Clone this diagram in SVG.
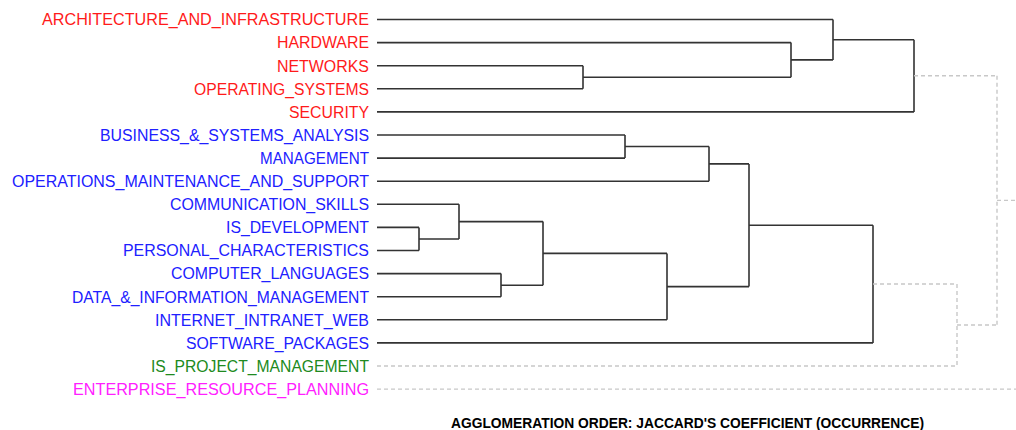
<svg xmlns="http://www.w3.org/2000/svg" width="1016" height="430" viewBox="0 0 1016 430">
<style>
.lbl{font-family:"Liberation Sans",Arial,sans-serif;font-size:16px;text-anchor:end}
.r{fill:#ff1a1a}.b{fill:#2020ff}.g{fill:#208a20}.m{fill:#ff20ff}
.solid{fill:none;stroke:#333;stroke-width:1.6}
.dash{fill:none;stroke:#c8c8c8;stroke-width:1.4;stroke-dasharray:4 3}
.title{font-family:"Liberation Sans",Arial,sans-serif;font-size:14.5px;font-weight:bold;fill:#000}
</style>
<rect width="1016" height="430" fill="#fff"/>
<g id="connectors">
<path class="solid" d="M377 19.5H833M377 42.6H791M377 65.7H583M377 88.8H583M377 111.9H914
M583 65.7V88.8M583 77.25H791M791 42.6V77.25M791 59.9H833M833 19.5V59.9M833 39.7H914M914 39.7V111.9"/>
<path class="solid" d="M377 135H625M377 158.1H625M625 135V158.1M625 146.5H709M377 181.2H709M709 146.5V181.2M709 163.9H749
M377 204.3H459M377 227.4H419M377 250.5H419M419 227.4V250.5M419 239H459M459 204.3V239M459 221.6H543
M377 273.6H501M377 296.7H501M501 273.6V296.7M501 285.2H543M543 221.6V285.2M543 253.4H667
M377 319.8H667M667 253.4V319.8M667 286.6H749M749 163.9V286.6M749 225.2H873M377 342.9H873M873 225.2V342.9"/>
<path class="dash" d="M873 284H957M377 366H957M957 284V366M957 325H997M914 75.8H997M997 75.8V325M997 200.4H1016M377 389.1H1016"/>
</g>
<g id="n-architecture"><text class="lbl r" x="369" y="25.3" textLength="327" lengthAdjust="spacingAndGlyphs">ARCHITECTURE_AND_INFRASTRUCTURE</text></g>
<g id="n-hardware"><text class="lbl r" x="369" y="48.4" textLength="92" lengthAdjust="spacingAndGlyphs">HARDWARE</text></g>
<g id="n-networks"><text class="lbl r" x="369" y="71.5" textLength="92" lengthAdjust="spacingAndGlyphs">NETWORKS</text></g>
<g id="n-operating"><text class="lbl r" x="369" y="94.6" textLength="175" lengthAdjust="spacingAndGlyphs">OPERATING_SYSTEMS</text></g>
<g id="n-security"><text class="lbl r" x="369" y="117.7" textLength="80" lengthAdjust="spacingAndGlyphs">SECURITY</text></g>
<g id="n-business"><text class="lbl b" x="369" y="140.8" textLength="269" lengthAdjust="spacingAndGlyphs">BUSINESS_&amp;_SYSTEMS_ANALYSIS</text></g>
<g id="n-management"><text class="lbl b" x="369" y="163.9" textLength="109" lengthAdjust="spacingAndGlyphs">MANAGEMENT</text></g>
<g id="n-operations"><text class="lbl b" x="369" y="187" textLength="357" lengthAdjust="spacingAndGlyphs">OPERATIONS_MAINTENANCE_AND_SUPPORT</text></g>
<g id="n-communication"><text class="lbl b" x="369" y="210.1" textLength="199" lengthAdjust="spacingAndGlyphs">COMMUNICATION_SKILLS</text></g>
<g id="n-isdev"><text class="lbl b" x="369" y="233.2" textLength="143" lengthAdjust="spacingAndGlyphs">IS_DEVELOPMENT</text></g>
<g id="n-personal"><text class="lbl b" x="369" y="256.3" textLength="246" lengthAdjust="spacingAndGlyphs">PERSONAL_CHARACTERISTICS</text></g>
<g id="n-computer"><text class="lbl b" x="369" y="279.4" textLength="198" lengthAdjust="spacingAndGlyphs">COMPUTER_LANGUAGES</text></g>
<g id="n-data"><text class="lbl b" x="369" y="302.5" textLength="297" lengthAdjust="spacingAndGlyphs">DATA_&amp;_INFORMATION_MANAGEMENT</text></g>
<g id="n-internet"><text class="lbl b" x="369" y="325.6" textLength="214" lengthAdjust="spacingAndGlyphs">INTERNET_INTRANET_WEB</text></g>
<g id="n-software"><text class="lbl b" x="369" y="348.7" textLength="183" lengthAdjust="spacingAndGlyphs">SOFTWARE_PACKAGES</text></g>
<g id="n-isproject"><text class="lbl g" x="369" y="371.8" textLength="218" lengthAdjust="spacingAndGlyphs">IS_PROJECT_MANAGEMENT</text></g>
<g id="n-erp"><text class="lbl m" x="369" y="394.9" textLength="296" lengthAdjust="spacingAndGlyphs">ENTERPRISE_RESOURCE_PLANNING</text></g>
<text class="title" x="451" y="428" textLength="473" lengthAdjust="spacingAndGlyphs">AGGLOMERATION ORDER: JACCARD'S COEFFICIENT (OCCURRENCE)</text>
</svg>
